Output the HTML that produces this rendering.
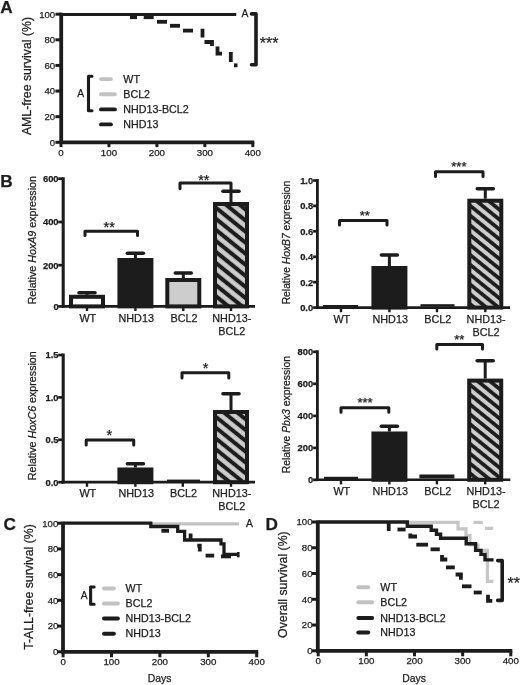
<!DOCTYPE html>
<html><head><meta charset="utf-8"><title>Figure</title>
<style>
html,body{margin:0;padding:0;background:#fff;}
svg{display:block;font-family:"Liberation Sans",sans-serif;}
svg text{fill:#1c1c1c;stroke:#1c1c1c;stroke-width:0.25px;}
</style></head>
<body>
<svg width="520" height="685" viewBox="0 0 520 685">
<defs>
<filter id="soft" x="0" y="0" width="520" height="685" filterUnits="userSpaceOnUse"><feGaussianBlur stdDeviation="0.45"/></filter>
<pattern id="h1" width="8.6" height="8.6" patternUnits="userSpaceOnUse" patternTransform="translate(216.5 219.2) rotate(39)"><rect width="8.6" height="8.6" fill="#cdcdcd"/><rect width="8.6" height="2.05" fill="#1c1c1c"/><rect y="6.55" width="8.6" height="2.05" fill="#1c1c1c"/></pattern>
<pattern id="h2" width="7.65" height="7.65" patternUnits="userSpaceOnUse" patternTransform="translate(471.1 216.3) rotate(39)"><rect width="7.65" height="7.65" fill="#cdcdcd"/><rect width="7.65" height="1.85" fill="#1c1c1c"/><rect y="5.800000000000001" width="7.65" height="1.85" fill="#1c1c1c"/></pattern>
<pattern id="h3" width="8.4" height="8.4" patternUnits="userSpaceOnUse" patternTransform="translate(216.7 439.1) rotate(39)"><rect width="8.4" height="8.4" fill="#cdcdcd"/><rect width="8.4" height="2.0" fill="#1c1c1c"/><rect y="6.4" width="8.4" height="2.0" fill="#1c1c1c"/></pattern>
<pattern id="h4" width="7.65" height="7.65" patternUnits="userSpaceOnUse" patternTransform="translate(471.1 405.3) rotate(39)"><rect width="7.65" height="7.65" fill="#cdcdcd"/><rect width="7.65" height="1.85" fill="#1c1c1c"/><rect y="5.800000000000001" width="7.65" height="1.85" fill="#1c1c1c"/></pattern>
</defs>
<rect width="520" height="685" fill="#fff"/>
<g filter="url(#soft)">
<text x="0" y="0" font-size="17.2" font-weight="bold" transform="translate(0.2 12.6) scale(1 1)">A</text>
<text x="0" y="0" font-size="17.2" font-weight="bold" transform="translate(0.3 187.3) scale(1 1)">B</text>
<text x="0" y="0" font-size="17.2" font-weight="bold" transform="translate(3.4 529.9) scale(1 1)">C</text>
<text x="0" y="0" font-size="17.2" font-weight="bold" transform="translate(265.5 529.9) scale(1 1)">D</text>
<line x1="61.2" y1="12.7" x2="61.2" y2="143.9" stroke="#1c1c1c" stroke-width="3.8" stroke-linecap="butt"/>
<line x1="59.6" y1="142.3" x2="254.3" y2="142.3" stroke="#1c1c1c" stroke-width="3.8" stroke-linecap="butt"/>
<line x1="55.400000000000006" y1="14.2" x2="61.2" y2="14.2" stroke="#1c1c1c" stroke-width="3.0" stroke-linecap="butt"/>
<text x="55.2" y="17.599999999999998" font-size="9.6" text-anchor="end">100</text>
<line x1="55.400000000000006" y1="39.82000000000001" x2="61.2" y2="39.82000000000001" stroke="#1c1c1c" stroke-width="3.0" stroke-linecap="butt"/>
<text x="55.2" y="43.220000000000006" font-size="9.6" text-anchor="end">80</text>
<line x1="55.400000000000006" y1="65.44000000000001" x2="61.2" y2="65.44000000000001" stroke="#1c1c1c" stroke-width="3.0" stroke-linecap="butt"/>
<text x="55.2" y="68.84000000000002" font-size="9.6" text-anchor="end">60</text>
<line x1="55.400000000000006" y1="91.06000000000002" x2="61.2" y2="91.06000000000002" stroke="#1c1c1c" stroke-width="3.0" stroke-linecap="butt"/>
<text x="55.2" y="94.46000000000002" font-size="9.6" text-anchor="end">40</text>
<line x1="55.400000000000006" y1="116.68000000000002" x2="61.2" y2="116.68000000000002" stroke="#1c1c1c" stroke-width="3.0" stroke-linecap="butt"/>
<text x="55.2" y="120.08000000000003" font-size="9.6" text-anchor="end">20</text>
<line x1="55.400000000000006" y1="142.3" x2="61.2" y2="142.3" stroke="#1c1c1c" stroke-width="3.0" stroke-linecap="butt"/>
<text x="55.2" y="145.70000000000002" font-size="9.6" text-anchor="end">0</text>
<line x1="61.0" y1="142.3" x2="61.0" y2="147.10000000000002" stroke="#1c1c1c" stroke-width="3.0" stroke-linecap="butt"/>
<text x="61.0" y="155.9" font-size="9.7" text-anchor="middle">0</text>
<line x1="108.95" y1="142.3" x2="108.95" y2="147.10000000000002" stroke="#1c1c1c" stroke-width="3.0" stroke-linecap="butt"/>
<text x="108.95" y="155.9" font-size="9.7" text-anchor="middle">100</text>
<line x1="156.9" y1="142.3" x2="156.9" y2="147.10000000000002" stroke="#1c1c1c" stroke-width="3.0" stroke-linecap="butt"/>
<text x="156.9" y="155.9" font-size="9.7" text-anchor="middle">200</text>
<line x1="204.85000000000002" y1="142.3" x2="204.85000000000002" y2="147.10000000000002" stroke="#1c1c1c" stroke-width="3.0" stroke-linecap="butt"/>
<text x="204.85000000000002" y="155.9" font-size="9.7" text-anchor="middle">300</text>
<line x1="252.8" y1="142.3" x2="252.8" y2="147.10000000000002" stroke="#1c1c1c" stroke-width="3.0" stroke-linecap="butt"/>
<text x="252.8" y="155.9" font-size="9.7" text-anchor="middle">400</text>
<text x="30.9" y="76" font-size="12.3" text-anchor="middle" transform="rotate(-90 30.9 76)">AML-free survival (%)</text>
<line x1="61.2" y1="14.5" x2="236.2" y2="14.5" stroke="#1c1c1c" stroke-width="3.0" stroke-linecap="butt"/>
<text x="245" y="17.2" font-size="10.3" text-anchor="middle">A</text>
<path d="M251.5,13.9 H256 V64.7 H251.5" fill="none" stroke="#1c1c1c" stroke-width="3.6" stroke-linejoin="round" stroke-linecap="round"/>
<text x="259.8" y="49" font-size="16" text-anchor="start">***</text>
<path d="M130,17.2 H137" fill="none" stroke="#1c1c1c" stroke-width="3.8" stroke-linejoin="miter" stroke-linecap="butt"/>
<path d="M143.7,17.2 H153.7" fill="none" stroke="#1c1c1c" stroke-width="3.8" stroke-linejoin="miter" stroke-linecap="butt"/>
<path d="M157,21.8 H167" fill="none" stroke="#1c1c1c" stroke-width="3.8" stroke-linejoin="miter" stroke-linecap="butt"/>
<path d="M170,25.8 H180" fill="none" stroke="#1c1c1c" stroke-width="3.8" stroke-linejoin="miter" stroke-linecap="butt"/>
<path d="M183,30.6 H193" fill="none" stroke="#1c1c1c" stroke-width="3.8" stroke-linejoin="miter" stroke-linecap="butt"/>
<path d="M202.5,28.7 V37.5" fill="none" stroke="#1c1c1c" stroke-width="3.8" stroke-linejoin="miter" stroke-linecap="butt"/>
<path d="M204.5,42 H212 V46" fill="none" stroke="#1c1c1c" stroke-width="3.8" stroke-linejoin="miter" stroke-linecap="butt"/>
<path d="M217.5,46.5 V53.7 H222" fill="none" stroke="#1c1c1c" stroke-width="3.8" stroke-linejoin="miter" stroke-linecap="butt"/>
<path d="M230.8,52 V62" fill="none" stroke="#1c1c1c" stroke-width="3.8" stroke-linejoin="miter" stroke-linecap="butt"/>
<path d="M234,65.3 H237.5" fill="none" stroke="#1c1c1c" stroke-width="3.8" stroke-linejoin="miter" stroke-linecap="butt"/>
<line x1="101" y1="79.1" x2="110.9" y2="79.1" stroke="#c2c2c2" stroke-width="3.9" stroke-linecap="round"/>
<text x="123.3" y="82.69999999999999" font-size="10.7" text-anchor="start">WT</text>
<line x1="101" y1="94.2" x2="114.9" y2="94.2" stroke="#c2c2c2" stroke-width="3.9" stroke-linecap="round"/>
<text x="123.3" y="97.8" font-size="10.7" text-anchor="start">BCL2</text>
<line x1="101" y1="109.4" x2="114.9" y2="109.4" stroke="#1c1c1c" stroke-width="3.9" stroke-linecap="round"/>
<text x="123.3" y="113.0" font-size="10.7" text-anchor="start">NHD13-BCL2</text>
<line x1="101" y1="124.4" x2="110.9" y2="124.4" stroke="#1c1c1c" stroke-width="3.9" stroke-linecap="round"/>
<text x="123.3" y="128.0" font-size="10.7" text-anchor="start">NHD13</text>
<text x="80.6" y="97.3" font-size="10.3" text-anchor="middle">A</text>
<path d="M92.0,76.2 H88.5 V110.7 H92.0" fill="none" stroke="#1c1c1c" stroke-width="3.1" stroke-linejoin="round" stroke-linecap="round"/>
<line x1="63" y1="521.7" x2="63" y2="653.4" stroke="#1c1c1c" stroke-width="3.8" stroke-linecap="butt"/>
<line x1="61.4" y1="651.8" x2="258.2" y2="651.8" stroke="#1c1c1c" stroke-width="3.8" stroke-linecap="butt"/>
<line x1="57.2" y1="523.2" x2="63" y2="523.2" stroke="#1c1c1c" stroke-width="3.0" stroke-linecap="butt"/>
<text x="58.3" y="526.6" font-size="9.6" text-anchor="end">100</text>
<line x1="57.2" y1="548.9200000000001" x2="63" y2="548.9200000000001" stroke="#1c1c1c" stroke-width="3.0" stroke-linecap="butt"/>
<text x="58.3" y="552.32" font-size="9.6" text-anchor="end">80</text>
<line x1="57.2" y1="574.64" x2="63" y2="574.64" stroke="#1c1c1c" stroke-width="3.0" stroke-linecap="butt"/>
<text x="58.3" y="578.04" font-size="9.6" text-anchor="end">60</text>
<line x1="57.2" y1="600.36" x2="63" y2="600.36" stroke="#1c1c1c" stroke-width="3.0" stroke-linecap="butt"/>
<text x="58.3" y="603.76" font-size="9.6" text-anchor="end">40</text>
<line x1="57.2" y1="626.0799999999999" x2="63" y2="626.0799999999999" stroke="#1c1c1c" stroke-width="3.0" stroke-linecap="butt"/>
<text x="58.3" y="629.4799999999999" font-size="9.6" text-anchor="end">20</text>
<line x1="57.2" y1="651.8" x2="63" y2="651.8" stroke="#1c1c1c" stroke-width="3.0" stroke-linecap="butt"/>
<text x="58.3" y="655.1999999999999" font-size="9.6" text-anchor="end">0</text>
<line x1="63.1" y1="651.8" x2="63.1" y2="657.3" stroke="#1c1c1c" stroke-width="3.0" stroke-linecap="butt"/>
<text x="63.1" y="665.1999999999999" font-size="9.7" text-anchor="middle">0</text>
<line x1="111.5" y1="651.8" x2="111.5" y2="657.3" stroke="#1c1c1c" stroke-width="3.0" stroke-linecap="butt"/>
<text x="111.5" y="665.1999999999999" font-size="9.7" text-anchor="middle">100</text>
<line x1="159.9" y1="651.8" x2="159.9" y2="657.3" stroke="#1c1c1c" stroke-width="3.0" stroke-linecap="butt"/>
<text x="159.9" y="665.1999999999999" font-size="9.7" text-anchor="middle">200</text>
<line x1="208.29999999999998" y1="651.8" x2="208.29999999999998" y2="657.3" stroke="#1c1c1c" stroke-width="3.0" stroke-linecap="butt"/>
<text x="208.29999999999998" y="665.1999999999999" font-size="9.7" text-anchor="middle">300</text>
<line x1="256.7" y1="651.8" x2="256.7" y2="657.3" stroke="#1c1c1c" stroke-width="3.0" stroke-linecap="butt"/>
<text x="256.7" y="665.1999999999999" font-size="9.7" text-anchor="middle">400</text>
<text x="33.0" y="587" font-size="12.3" text-anchor="middle" transform="rotate(-90 33.0 587)">T-ALL-free survival (%)</text>
<text x="159.5" y="682" font-size="10.4" text-anchor="middle">Days</text>
<line x1="152" y1="523.8" x2="239" y2="523.8" stroke="#c2c2c2" stroke-width="3.3" stroke-linecap="butt"/>
<text x="249.5" y="526.6" font-size="10.3" text-anchor="middle">A</text>
<path d="M63,523.2 H150.8 V526.5 H177.7 V531.3 H184.6 V540 H221 V543.8 H224 V554.4 H238.3" fill="none" stroke="#1c1c1c" stroke-width="3.3" stroke-linejoin="miter" stroke-linecap="butt"/>
<path d="M238.3,552 V557.3" fill="none" stroke="#1c1c1c" stroke-width="2.6" stroke-linejoin="miter" stroke-linecap="butt"/>
<path d="M161.4,530.8 H169" fill="none" stroke="#1c1c1c" stroke-width="3.8" stroke-linejoin="miter" stroke-linecap="butt"/>
<path d="M190.6,533.5 V540" fill="none" stroke="#1c1c1c" stroke-width="3.8" stroke-linejoin="miter" stroke-linecap="butt"/>
<path d="M197.3,545.6 H199.8 V551.6" fill="none" stroke="#1c1c1c" stroke-width="3.8" stroke-linejoin="miter" stroke-linecap="butt"/>
<path d="M205.6,555.6 H214.2" fill="none" stroke="#1c1c1c" stroke-width="3.8" stroke-linejoin="miter" stroke-linecap="butt"/>
<path d="M221,556.4 H231" fill="none" stroke="#1c1c1c" stroke-width="3.8" stroke-linejoin="miter" stroke-linecap="butt"/>
<line x1="104" y1="588.5" x2="113.9" y2="588.5" stroke="#c2c2c2" stroke-width="3.9" stroke-linecap="round"/>
<text x="125.6" y="592.1" font-size="10.7" text-anchor="start">WT</text>
<line x1="104" y1="603.5" x2="117.9" y2="603.5" stroke="#c2c2c2" stroke-width="3.9" stroke-linecap="round"/>
<text x="125.6" y="607.1" font-size="10.7" text-anchor="start">BCL2</text>
<line x1="104" y1="618.5" x2="117.9" y2="618.5" stroke="#1c1c1c" stroke-width="3.9" stroke-linecap="round"/>
<text x="125.6" y="622.1" font-size="10.7" text-anchor="start">NHD13-BCL2</text>
<line x1="104" y1="633.7" x2="113.9" y2="633.7" stroke="#1c1c1c" stroke-width="3.9" stroke-linecap="round"/>
<text x="125.6" y="637.3000000000001" font-size="10.7" text-anchor="start">NHD13</text>
<text x="84.2" y="599.2" font-size="10.3" text-anchor="middle">A</text>
<path d="M94.1,587 H90.6 V604.3 H94.1" fill="none" stroke="#1c1c1c" stroke-width="3.1" stroke-linejoin="round" stroke-linecap="round"/>
<line x1="317.8" y1="520.5" x2="317.8" y2="652.4" stroke="#1c1c1c" stroke-width="3.8" stroke-linecap="butt"/>
<line x1="316.2" y1="650.8" x2="512.3" y2="650.8" stroke="#1c1c1c" stroke-width="3.8" stroke-linecap="butt"/>
<line x1="312.0" y1="522.0" x2="317.8" y2="522.0" stroke="#1c1c1c" stroke-width="3.0" stroke-linecap="butt"/>
<text x="312.5" y="525.4" font-size="9.6" text-anchor="end">100</text>
<line x1="312.0" y1="547.76" x2="317.8" y2="547.76" stroke="#1c1c1c" stroke-width="3.0" stroke-linecap="butt"/>
<text x="312.5" y="551.16" font-size="9.6" text-anchor="end">80</text>
<line x1="312.0" y1="573.52" x2="317.8" y2="573.52" stroke="#1c1c1c" stroke-width="3.0" stroke-linecap="butt"/>
<text x="312.5" y="576.92" font-size="9.6" text-anchor="end">60</text>
<line x1="312.0" y1="599.28" x2="317.8" y2="599.28" stroke="#1c1c1c" stroke-width="3.0" stroke-linecap="butt"/>
<text x="312.5" y="602.68" font-size="9.6" text-anchor="end">40</text>
<line x1="312.0" y1="625.04" x2="317.8" y2="625.04" stroke="#1c1c1c" stroke-width="3.0" stroke-linecap="butt"/>
<text x="312.5" y="628.4399999999999" font-size="9.6" text-anchor="end">20</text>
<line x1="312.0" y1="650.8" x2="317.8" y2="650.8" stroke="#1c1c1c" stroke-width="3.0" stroke-linecap="butt"/>
<text x="312.5" y="654.1999999999999" font-size="9.6" text-anchor="end">0</text>
<line x1="318.2" y1="650.8" x2="318.2" y2="656.3" stroke="#1c1c1c" stroke-width="3.0" stroke-linecap="butt"/>
<text x="318.2" y="664.0" font-size="9.7" text-anchor="middle">0</text>
<line x1="366.34999999999997" y1="650.8" x2="366.34999999999997" y2="656.3" stroke="#1c1c1c" stroke-width="3.0" stroke-linecap="butt"/>
<text x="366.34999999999997" y="664.0" font-size="9.7" text-anchor="middle">100</text>
<line x1="414.5" y1="650.8" x2="414.5" y2="656.3" stroke="#1c1c1c" stroke-width="3.0" stroke-linecap="butt"/>
<text x="414.5" y="664.0" font-size="9.7" text-anchor="middle">200</text>
<line x1="462.65" y1="650.8" x2="462.65" y2="656.3" stroke="#1c1c1c" stroke-width="3.0" stroke-linecap="butt"/>
<text x="462.65" y="664.0" font-size="9.7" text-anchor="middle">300</text>
<line x1="510.79999999999995" y1="650.8" x2="510.79999999999995" y2="656.3" stroke="#1c1c1c" stroke-width="3.0" stroke-linecap="butt"/>
<text x="510.79999999999995" y="664.0" font-size="9.7" text-anchor="middle">400</text>
<text x="287.3" y="584.6" font-size="12.3" text-anchor="middle" transform="rotate(-90 287.3 584.6)">Overall survival (%)</text>
<text x="414" y="682" font-size="10.4" text-anchor="middle">Days</text>
<path d="M405,522.3 H458 V528.8 H466 V535.6 H470 V545 H478 V550.4 H487.4 V581.3 H493.3" fill="none" stroke="#c6c6c6" stroke-width="3.2" stroke-linejoin="miter" stroke-linecap="butt"/>
<line x1="473.5" y1="522.4" x2="482.7" y2="522.4" stroke="#c6c6c6" stroke-width="3.2" stroke-linecap="butt"/>
<line x1="485" y1="528.3" x2="493.2" y2="528.3" stroke="#c6c6c6" stroke-width="3.2" stroke-linecap="butt"/>
<path d="M317.8,522 H407.3 V526.2 H431.2 V530.2 H436.5 V534.2 H440.6 V538.3 H466.2 V543.7 H475.6 V550.4 H481 V554.4 H485 V559.9 H493.6" fill="none" stroke="#1c1c1c" stroke-width="3.4" stroke-linejoin="miter" stroke-linecap="butt"/>
<g transform="translate(0 0.5)">
<path d="M388.7,522 V530.5" fill="none" stroke="#1c1c1c" stroke-width="3.8" stroke-linejoin="miter" stroke-linecap="butt"/>
</g>
<g transform="translate(0 0.5)">
<path d="M397.5,529 H405.6" fill="none" stroke="#1c1c1c" stroke-width="3.8" stroke-linejoin="miter" stroke-linecap="butt"/>
</g>
<g transform="translate(0 0.5)">
<path d="M410.3,533 V536 H417" fill="none" stroke="#1c1c1c" stroke-width="3.8" stroke-linejoin="miter" stroke-linecap="butt"/>
</g>
<g transform="translate(0 0.5)">
<path d="M416.3,544.2 H428" fill="none" stroke="#1c1c1c" stroke-width="3.8" stroke-linejoin="miter" stroke-linecap="butt"/>
</g>
<g transform="translate(0 0.5)">
<path d="M430.6,548.8 H439.8" fill="none" stroke="#1c1c1c" stroke-width="3.8" stroke-linejoin="miter" stroke-linecap="butt"/>
</g>
<g transform="translate(0 0.5)">
<path d="M442,554.4 V559 H447.3" fill="none" stroke="#1c1c1c" stroke-width="3.8" stroke-linejoin="miter" stroke-linecap="butt"/>
</g>
<g transform="translate(0 0.5)">
<path d="M446,566.9 H454.8" fill="none" stroke="#1c1c1c" stroke-width="3.8" stroke-linejoin="miter" stroke-linecap="butt"/>
</g>
<g transform="translate(0 0.5)">
<path d="M455.6,574 H460.9 V579.3" fill="none" stroke="#1c1c1c" stroke-width="3.8" stroke-linejoin="miter" stroke-linecap="butt"/>
</g>
<g transform="translate(0 0.5)">
<path d="M462,585.8 H471.5" fill="none" stroke="#1c1c1c" stroke-width="3.8" stroke-linejoin="miter" stroke-linecap="butt"/>
</g>
<g transform="translate(0 0.5)">
<path d="M473.7,592 H481.8" fill="none" stroke="#1c1c1c" stroke-width="3.8" stroke-linejoin="miter" stroke-linecap="butt"/>
</g>
<g transform="translate(0 0.5)">
<path d="M488,594.3 V600.3 H492.3" fill="none" stroke="#1c1c1c" stroke-width="3.8" stroke-linejoin="miter" stroke-linecap="butt"/>
</g>
<path d="M497.7,560.6 H502.2 V600.4 H497.7" fill="none" stroke="#1c1c1c" stroke-width="3.6" stroke-linejoin="round" stroke-linecap="round"/>
<text x="507.6" y="589.4" font-size="16" text-anchor="start">**</text>
<line x1="358.3" y1="587.2" x2="368.2" y2="587.2" stroke="#c2c2c2" stroke-width="3.9" stroke-linecap="round"/>
<text x="380.3" y="590.8000000000001" font-size="10.7" text-anchor="start">WT</text>
<line x1="358.3" y1="602.2" x2="372.2" y2="602.2" stroke="#c2c2c2" stroke-width="3.9" stroke-linecap="round"/>
<text x="380.3" y="605.8000000000001" font-size="10.7" text-anchor="start">BCL2</text>
<line x1="358.3" y1="618" x2="372.2" y2="618" stroke="#1c1c1c" stroke-width="3.9" stroke-linecap="round"/>
<text x="380.3" y="621.6" font-size="10.7" text-anchor="start">NHD13-BCL2</text>
<line x1="358.3" y1="632.5" x2="368.2" y2="632.5" stroke="#1c1c1c" stroke-width="3.9" stroke-linecap="round"/>
<text x="380.3" y="636.1" font-size="10.7" text-anchor="start">NHD13</text>
<line x1="87" y1="292.8" x2="87" y2="294.8" stroke="#1c1c1c" stroke-width="3.0" stroke-linecap="butt"/>
<line x1="79.0" y1="292.8" x2="95.0" y2="292.8" stroke="#1c1c1c" stroke-width="3.6" stroke-linecap="round"/>
<rect x="71.0" y="296.8" width="32.0" height="9.599999999999966" fill="#ffffff" stroke="#1c1c1c" stroke-width="4.0"/>
<line x1="135.4" y1="253.2" x2="135.4" y2="258" stroke="#1c1c1c" stroke-width="3.0" stroke-linecap="butt"/>
<line x1="127.4" y1="253.2" x2="143.4" y2="253.2" stroke="#1c1c1c" stroke-width="3.6" stroke-linecap="round"/>
<rect x="119.4" y="260.0" width="32.0" height="46.39999999999998" fill="#1c1c1c" stroke="#1c1c1c" stroke-width="4.0"/>
<line x1="183.3" y1="273" x2="183.3" y2="278" stroke="#1c1c1c" stroke-width="3.0" stroke-linecap="butt"/>
<line x1="175.3" y1="273" x2="191.3" y2="273" stroke="#1c1c1c" stroke-width="3.6" stroke-linecap="round"/>
<rect x="167.3" y="280.0" width="32.0" height="26.399999999999977" fill="#cdcdcd" stroke="#1c1c1c" stroke-width="4.0"/>
<line x1="231" y1="191.2" x2="231" y2="202" stroke="#1c1c1c" stroke-width="3.0" stroke-linecap="butt"/>
<line x1="223.0" y1="191.2" x2="239.0" y2="191.2" stroke="#1c1c1c" stroke-width="3.6" stroke-linecap="round"/>
<rect x="215.0" y="204.0" width="32.0" height="102.39999999999998" fill="url(#h1)" stroke="#1c1c1c" stroke-width="4.0"/>
<line x1="63.2" y1="177.3" x2="63.2" y2="307.79999999999995" stroke="#1c1c1c" stroke-width="3.1" stroke-linecap="butt"/>
<line x1="61.650000000000006" y1="306.4" x2="255" y2="306.4" stroke="#1c1c1c" stroke-width="2.8" stroke-linecap="butt"/>
<line x1="58.2" y1="178.7" x2="63.2" y2="178.7" stroke="#1c1c1c" stroke-width="2.7" stroke-linecap="butt"/>
<text x="58.6" y="182.0" font-size="9.4" text-anchor="end" font-weight="bold">600</text>
<line x1="58.2" y1="222" x2="63.2" y2="222" stroke="#1c1c1c" stroke-width="2.7" stroke-linecap="butt"/>
<text x="58.6" y="225.3" font-size="9.4" text-anchor="end" font-weight="bold">400</text>
<line x1="58.2" y1="265.2" x2="63.2" y2="265.2" stroke="#1c1c1c" stroke-width="2.7" stroke-linecap="butt"/>
<text x="58.6" y="268.5" font-size="9.4" text-anchor="end" font-weight="bold">200</text>
<line x1="58.2" y1="306.4" x2="63.2" y2="306.4" stroke="#1c1c1c" stroke-width="2.7" stroke-linecap="butt"/>
<text x="58.6" y="309.7" font-size="9.4" text-anchor="end" font-weight="bold">0</text>
<line x1="87" y1="306.4" x2="87" y2="311.0" stroke="#1c1c1c" stroke-width="2.4" stroke-linecap="butt"/>
<line x1="135.4" y1="306.4" x2="135.4" y2="311.0" stroke="#1c1c1c" stroke-width="2.4" stroke-linecap="butt"/>
<line x1="183.3" y1="306.4" x2="183.3" y2="311.0" stroke="#1c1c1c" stroke-width="2.4" stroke-linecap="butt"/>
<line x1="231" y1="306.4" x2="231" y2="311.0" stroke="#1c1c1c" stroke-width="2.4" stroke-linecap="butt"/>
<text x="87.8" y="321.7" font-size="10.8" text-anchor="middle">WT</text>
<text x="136.20000000000002" y="321.7" font-size="10.8" text-anchor="middle">NHD13</text>
<text x="184.10000000000002" y="321.7" font-size="10.8" text-anchor="middle">BCL2</text>
<text x="231.8" y="321.7" font-size="10.8" text-anchor="middle">NHD13-</text>
<text x="231.8" y="334.9" font-size="10.8" text-anchor="middle">BCL2</text>
<text x="35.6" y="240.2" font-size="10.7" text-anchor="middle" transform="rotate(-90 35.6 240.2)">Relative <tspan font-style="italic">HoxA9</tspan> expression</text>
<path d="M85,235.5 V231.2 H137.5 V235.5" fill="none" stroke="#1c1c1c" stroke-width="3.0" stroke-linejoin="round" stroke-linecap="round"/>
<text x="109.2" y="232.04" font-size="14.5" text-anchor="middle">**</text>
<path d="M180,188.7 V183 H231 V191" fill="none" stroke="#1c1c1c" stroke-width="3.0" stroke-linejoin="round" stroke-linecap="round"/>
<text x="203.8" y="185.14" font-size="14.5" text-anchor="middle">**</text>
<line x1="389.4" y1="255" x2="389.4" y2="266" stroke="#1c1c1c" stroke-width="3.0" stroke-linecap="butt"/>
<line x1="381.4" y1="255" x2="397.4" y2="255" stroke="#1c1c1c" stroke-width="3.6" stroke-linecap="round"/>
<rect x="373.4" y="268.0" width="32.0" height="39.60000000000002" fill="#1c1c1c" stroke="#1c1c1c" stroke-width="4.0"/>
<line x1="485.3" y1="188.7" x2="485.3" y2="198.7" stroke="#1c1c1c" stroke-width="3.0" stroke-linecap="butt"/>
<line x1="477.3" y1="188.7" x2="493.3" y2="188.7" stroke="#1c1c1c" stroke-width="3.6" stroke-linecap="round"/>
<rect x="469.3" y="200.7" width="32.0" height="106.90000000000003" fill="url(#h2)" stroke="#1c1c1c" stroke-width="4.0"/>
<line x1="317.4" y1="179" x2="317.4" y2="308.90000000000003" stroke="#1c1c1c" stroke-width="2.8" stroke-linecap="butt"/>
<line x1="316.0" y1="307.6" x2="510" y2="307.6" stroke="#1c1c1c" stroke-width="2.6" stroke-linecap="butt"/>
<line x1="313.09999999999997" y1="180.5" x2="317.4" y2="180.5" stroke="#1c1c1c" stroke-width="2.7" stroke-linecap="butt"/>
<text x="313.2" y="183.8" font-size="9.4" text-anchor="end" font-weight="bold">1.0</text>
<line x1="313.09999999999997" y1="205.9" x2="317.4" y2="205.9" stroke="#1c1c1c" stroke-width="2.7" stroke-linecap="butt"/>
<text x="313.2" y="209.20000000000002" font-size="9.4" text-anchor="end" font-weight="bold">0.8</text>
<line x1="313.09999999999997" y1="231.3" x2="317.4" y2="231.3" stroke="#1c1c1c" stroke-width="2.7" stroke-linecap="butt"/>
<text x="313.2" y="234.60000000000002" font-size="9.4" text-anchor="end" font-weight="bold">0.6</text>
<line x1="313.09999999999997" y1="256.8" x2="317.4" y2="256.8" stroke="#1c1c1c" stroke-width="2.7" stroke-linecap="butt"/>
<text x="313.2" y="260.1" font-size="9.4" text-anchor="end" font-weight="bold">0.4</text>
<line x1="313.09999999999997" y1="282.2" x2="317.4" y2="282.2" stroke="#1c1c1c" stroke-width="2.7" stroke-linecap="butt"/>
<text x="313.2" y="285.5" font-size="9.4" text-anchor="end" font-weight="bold">0.2</text>
<line x1="313.09999999999997" y1="307.6" x2="317.4" y2="307.6" stroke="#1c1c1c" stroke-width="2.7" stroke-linecap="butt"/>
<text x="313.2" y="310.90000000000003" font-size="9.4" text-anchor="end" font-weight="bold">0.0</text>
<line x1="341" y1="307.6" x2="341" y2="312.20000000000005" stroke="#1c1c1c" stroke-width="2.4" stroke-linecap="butt"/>
<line x1="389.4" y1="307.6" x2="389.4" y2="312.20000000000005" stroke="#1c1c1c" stroke-width="2.4" stroke-linecap="butt"/>
<line x1="437" y1="307.6" x2="437" y2="312.20000000000005" stroke="#1c1c1c" stroke-width="2.4" stroke-linecap="butt"/>
<line x1="485.3" y1="307.6" x2="485.3" y2="312.20000000000005" stroke="#1c1c1c" stroke-width="2.4" stroke-linecap="butt"/>
<text x="341.8" y="322.5" font-size="10.8" text-anchor="middle">WT</text>
<text x="390.2" y="322.5" font-size="10.8" text-anchor="middle">NHD13</text>
<text x="437.8" y="322.5" font-size="10.8" text-anchor="middle">BCL2</text>
<text x="486.1" y="322.5" font-size="10.8" text-anchor="middle">NHD13-</text>
<text x="486.1" y="335.7" font-size="10.8" text-anchor="middle">BCL2</text>
<text x="290.2" y="242.5" font-size="10.3" text-anchor="middle" transform="rotate(-90 290.2 242.5)">Relative <tspan font-style="italic">HoxB7</tspan> expression</text>
<path d="M339.5,225.0 V220.5 H387 V225.0" fill="none" stroke="#1c1c1c" stroke-width="3.0" stroke-linejoin="round" stroke-linecap="round"/>
<text x="364.8" y="219.97" font-size="13" text-anchor="middle">**</text>
<path d="M435.5,176.60000000000002 V171.8 H483 V176.60000000000002" fill="none" stroke="#1c1c1c" stroke-width="3.0" stroke-linejoin="round" stroke-linecap="round"/>
<text x="458.9" y="171.47" font-size="13" text-anchor="middle">***</text>
<rect x="323" y="305" width="35" height="2" fill="#1c1c1c"/>
<rect x="420.5" y="304.2" width="34" height="2.5" fill="#1c1c1c"/>
<line x1="135.4" y1="463.7" x2="135.4" y2="467.5" stroke="#1c1c1c" stroke-width="3.0" stroke-linecap="butt"/>
<line x1="127.4" y1="463.7" x2="143.4" y2="463.7" stroke="#1c1c1c" stroke-width="3.6" stroke-linecap="round"/>
<rect x="119.4" y="469.5" width="32.0" height="12.699999999999989" fill="#1c1c1c" stroke="#1c1c1c" stroke-width="4.0"/>
<line x1="231" y1="393.7" x2="231" y2="410" stroke="#1c1c1c" stroke-width="3.0" stroke-linecap="butt"/>
<line x1="223.0" y1="393.7" x2="239.0" y2="393.7" stroke="#1c1c1c" stroke-width="3.6" stroke-linecap="round"/>
<rect x="215.0" y="412.0" width="32.0" height="70.19999999999999" fill="url(#h3)" stroke="#1c1c1c" stroke-width="4.0"/>
<line x1="63.2" y1="353.5" x2="63.2" y2="483.59999999999997" stroke="#1c1c1c" stroke-width="3.1" stroke-linecap="butt"/>
<line x1="61.650000000000006" y1="482.2" x2="255" y2="482.2" stroke="#1c1c1c" stroke-width="2.8" stroke-linecap="butt"/>
<line x1="58.2" y1="355" x2="63.2" y2="355" stroke="#1c1c1c" stroke-width="2.7" stroke-linecap="butt"/>
<text x="58.6" y="358.3" font-size="9.4" text-anchor="end" font-weight="bold">1.5</text>
<line x1="58.2" y1="397.4" x2="63.2" y2="397.4" stroke="#1c1c1c" stroke-width="2.7" stroke-linecap="butt"/>
<text x="58.6" y="400.7" font-size="9.4" text-anchor="end" font-weight="bold">1.0</text>
<line x1="58.2" y1="439.8" x2="63.2" y2="439.8" stroke="#1c1c1c" stroke-width="2.7" stroke-linecap="butt"/>
<text x="58.6" y="443.1" font-size="9.4" text-anchor="end" font-weight="bold">0.5</text>
<line x1="58.2" y1="482.2" x2="63.2" y2="482.2" stroke="#1c1c1c" stroke-width="2.7" stroke-linecap="butt"/>
<text x="58.6" y="485.5" font-size="9.4" text-anchor="end" font-weight="bold">0.0</text>
<line x1="87" y1="482.2" x2="87" y2="486.8" stroke="#1c1c1c" stroke-width="2.4" stroke-linecap="butt"/>
<line x1="135.4" y1="482.2" x2="135.4" y2="486.8" stroke="#1c1c1c" stroke-width="2.4" stroke-linecap="butt"/>
<line x1="182.8" y1="482.2" x2="182.8" y2="486.8" stroke="#1c1c1c" stroke-width="2.4" stroke-linecap="butt"/>
<line x1="231" y1="482.2" x2="231" y2="486.8" stroke="#1c1c1c" stroke-width="2.4" stroke-linecap="butt"/>
<text x="87.8" y="496.6" font-size="10.8" text-anchor="middle">WT</text>
<text x="136.20000000000002" y="496.6" font-size="10.8" text-anchor="middle">NHD13</text>
<text x="183.60000000000002" y="496.6" font-size="10.8" text-anchor="middle">BCL2</text>
<text x="231.8" y="496.6" font-size="10.8" text-anchor="middle">NHD13-</text>
<text x="231.8" y="509.8" font-size="10.8" text-anchor="middle">BCL2</text>
<text x="35.6" y="415.7" font-size="10.7" text-anchor="middle" transform="rotate(-90 35.6 415.7)">Relative <tspan font-style="italic">HoxC6</tspan> expression</text>
<path d="M86.2,445 V440 H133.7 V445" fill="none" stroke="#1c1c1c" stroke-width="3.0" stroke-linejoin="round" stroke-linecap="round"/>
<text x="109.3" y="440.24" font-size="14.5" text-anchor="middle">*</text>
<path d="M182,378.0 V372.8 H228.8 V378.0" fill="none" stroke="#1c1c1c" stroke-width="3.0" stroke-linejoin="round" stroke-linecap="round"/>
<text x="205.5" y="373.14" font-size="14.5" text-anchor="middle">*</text>
<rect x="167" y="479.6" width="33" height="1.5" fill="#1c1c1c"/>
<line x1="389.4" y1="426.3" x2="389.4" y2="431.5" stroke="#1c1c1c" stroke-width="3.0" stroke-linecap="butt"/>
<line x1="381.4" y1="426.3" x2="397.4" y2="426.3" stroke="#1c1c1c" stroke-width="3.6" stroke-linecap="round"/>
<rect x="373.4" y="433.5" width="32.0" height="46.30000000000001" fill="#1c1c1c" stroke="#1c1c1c" stroke-width="4.0"/>
<line x1="485.2" y1="360.8" x2="485.2" y2="378.6" stroke="#1c1c1c" stroke-width="3.0" stroke-linecap="butt"/>
<line x1="477.2" y1="360.8" x2="493.2" y2="360.8" stroke="#1c1c1c" stroke-width="3.6" stroke-linecap="round"/>
<rect x="469.2" y="380.6" width="32.0" height="99.19999999999999" fill="url(#h4)" stroke="#1c1c1c" stroke-width="4.0"/>
<line x1="317.4" y1="350.3" x2="317.4" y2="481.1" stroke="#1c1c1c" stroke-width="2.8" stroke-linecap="butt"/>
<line x1="316.0" y1="479.8" x2="510.3" y2="479.8" stroke="#1c1c1c" stroke-width="2.6" stroke-linecap="butt"/>
<line x1="313.09999999999997" y1="351.8" x2="317.4" y2="351.8" stroke="#1c1c1c" stroke-width="2.7" stroke-linecap="butt"/>
<text x="313.2" y="355.1" font-size="9.4" text-anchor="end" font-weight="bold">800</text>
<line x1="313.09999999999997" y1="383.8" x2="317.4" y2="383.8" stroke="#1c1c1c" stroke-width="2.7" stroke-linecap="butt"/>
<text x="313.2" y="387.1" font-size="9.4" text-anchor="end" font-weight="bold">600</text>
<line x1="313.09999999999997" y1="415.9" x2="317.4" y2="415.9" stroke="#1c1c1c" stroke-width="2.7" stroke-linecap="butt"/>
<text x="313.2" y="419.2" font-size="9.4" text-anchor="end" font-weight="bold">400</text>
<line x1="313.09999999999997" y1="447.9" x2="317.4" y2="447.9" stroke="#1c1c1c" stroke-width="2.7" stroke-linecap="butt"/>
<text x="313.2" y="451.2" font-size="9.4" text-anchor="end" font-weight="bold">200</text>
<line x1="313.09999999999997" y1="479.8" x2="317.4" y2="479.8" stroke="#1c1c1c" stroke-width="2.7" stroke-linecap="butt"/>
<text x="313.2" y="483.1" font-size="9.4" text-anchor="end" font-weight="bold">0</text>
<line x1="341" y1="479.8" x2="341" y2="484.40000000000003" stroke="#1c1c1c" stroke-width="2.4" stroke-linecap="butt"/>
<line x1="389.4" y1="479.8" x2="389.4" y2="484.40000000000003" stroke="#1c1c1c" stroke-width="2.4" stroke-linecap="butt"/>
<line x1="436.9" y1="479.8" x2="436.9" y2="484.40000000000003" stroke="#1c1c1c" stroke-width="2.4" stroke-linecap="butt"/>
<line x1="485.2" y1="479.8" x2="485.2" y2="484.40000000000003" stroke="#1c1c1c" stroke-width="2.4" stroke-linecap="butt"/>
<text x="341.8" y="494.6" font-size="10.8" text-anchor="middle">WT</text>
<text x="390.2" y="494.6" font-size="10.8" text-anchor="middle">NHD13</text>
<text x="437.7" y="494.6" font-size="10.8" text-anchor="middle">BCL2</text>
<text x="486.0" y="494.6" font-size="10.8" text-anchor="middle">NHD13-</text>
<text x="486.0" y="507.8" font-size="10.8" text-anchor="middle">BCL2</text>
<text x="289.6" y="414.6" font-size="10.4" text-anchor="middle" transform="rotate(-90 289.6 414.6)">Relative <tspan font-style="italic">Pbx3</tspan> expression</text>
<path d="M341,412.3 V407.8 H388.8 V412.3" fill="none" stroke="#1c1c1c" stroke-width="3.0" stroke-linejoin="round" stroke-linecap="round"/>
<text x="365" y="407.27" font-size="13" text-anchor="middle">***</text>
<path d="M436.8,349.0 V344.5 H482.5 V349.0" fill="none" stroke="#1c1c1c" stroke-width="3.0" stroke-linejoin="round" stroke-linecap="round"/>
<text x="459.3" y="343.97" font-size="13" text-anchor="middle">**</text>
<rect x="324" y="476.8" width="34" height="2.5" fill="#1c1c1c"/>
<rect x="419.4" y="474.5" width="35" height="4" fill="#1c1c1c"/>
</g>
</svg>
</body></html>
